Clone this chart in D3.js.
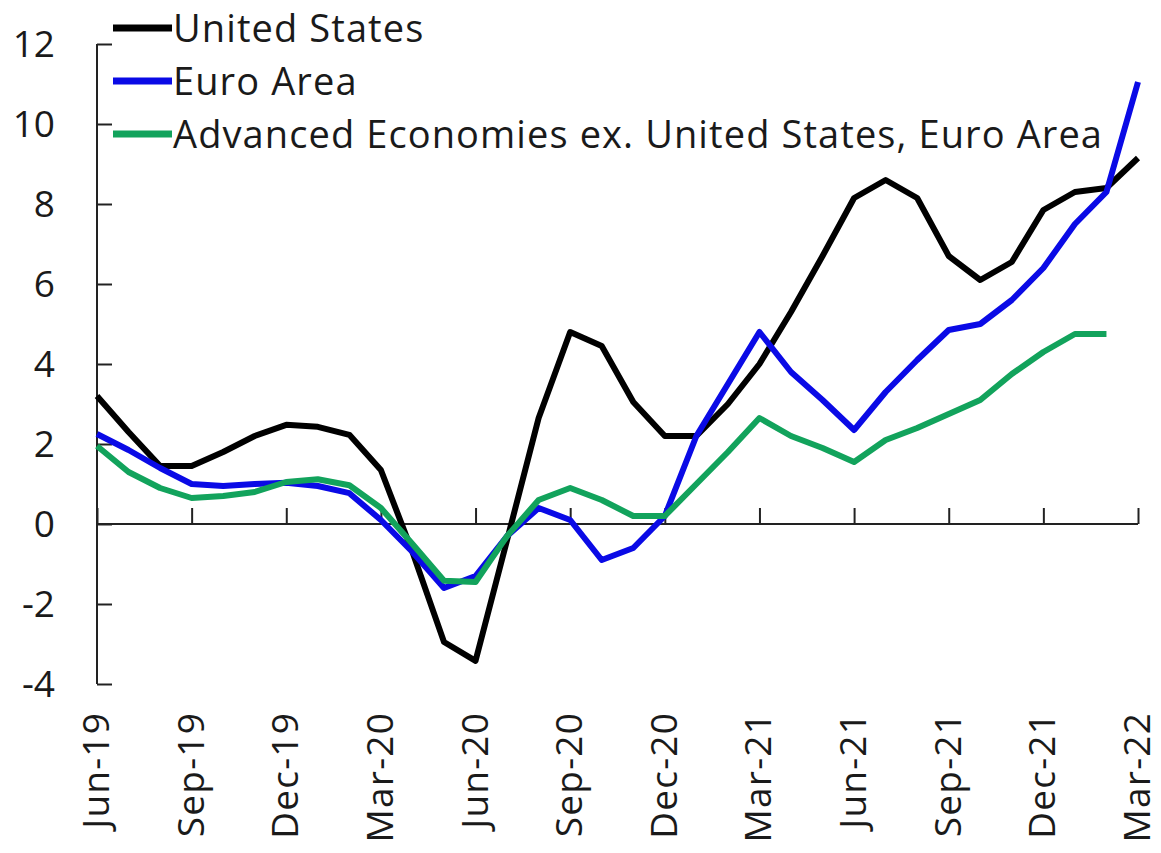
<!DOCTYPE html>
<html><head><meta charset="utf-8">
<script src="https://cdn.jsdelivr.net/npm/d3@7"></script>
<style>
html,body{margin:0;padding:0;background:#fff;}
text{font-family:"Open Sans",sans-serif;fill:#1a1a1a;}
</style></head>
<body>
<svg id="chart" width="1161" height="853"></svg>
<script>
const months = ["Jun-19","Jul-19","Aug-19","Sep-19","Oct-19","Nov-19","Dec-19","Jan-20","Feb-20","Mar-20","Apr-20","May-20","Jun-20","Jul-20","Aug-20","Sep-20","Oct-20","Nov-20","Dec-20","Jan-21","Feb-21","Mar-21","Apr-21","May-21","Jun-21","Jul-21","Aug-21","Sep-21","Oct-21","Nov-21","Dec-21","Jan-22","Feb-22","Mar-22"];
const tickLabels = ["Jun-19","Sep-19","Dec-19","Mar-20","Jun-20","Sep-20","Dec-20","Mar-21","Jun-21","Sep-21","Dec-21","Mar-22"];
const yTicks = [-4,-2,0,2,4,6,8,10,12];
const seriesNames = ["United States","Euro Area","Advanced Economies ex. United States, Euro Area"];
const usValues = [3.2,2.3,1.45,1.45,1.8,2.2,2.48,2.43,2.23,1.35,-0.7,-2.95,-3.42,-0.4,2.65,4.8,4.45,3.05,2.2,2.2,3.0,4.0,5.3,6.7,8.15,8.6,8.15,6.7,6.1,6.55,7.85,8.3,8.4,9.15];
const euroValues = [2.25,1.85,1.4,1.0,0.95,1.0,1.03,0.95,0.77,0.1,-0.7,-1.6,-1.3,-0.3,0.4,0.1,-0.9,-0.6,0.2,2.2,3.5,4.8,3.8,3.1,2.35,3.3,4.1,4.85,5.0,5.6,6.4,7.5,8.3,11.05];
const aeValues = [1.95,1.3,0.9,0.65,0.7,0.8,1.05,1.12,0.97,0.4,-0.5,-1.42,-1.45,-0.3,0.6,0.9,0.6,0.2,0.2,1.0,1.8,2.65,2.2,1.9,1.55,2.1,2.4,2.75,3.1,3.75,4.3,4.75,4.75,null];
const colors = ["#000000","#0a0ae6","#12a35c"];

const svg = d3.select("#chart");
const x = d3.scalePoint().domain(months).range([97,1138]);
const y = d3.scaleLinear().domain([-4,12]).range([684,44]);

// y axis
const yAxis = svg.append("g").attr("transform","translate(97,0)")
  .call(d3.axisRight(y).tickValues(yTicks).tickSize(15).tickFormat(""));
yAxis.select(".domain").attr("stroke","#222").attr("stroke-width",2).attr("d","M0,"+y(12)+"V"+y(-4));
yAxis.selectAll(".tick line").attr("stroke","#222").attr("stroke-width",2);
svg.append("g").selectAll("text").data(yTicks).join("text")
  .attr("x",55).attr("y",d=>y(d)).attr("dy","0.36em").attr("text-anchor","end")
  .style("font-size","37px").text(d=>d);

// x axis at zero
const xAxis = svg.append("g").attr("transform","translate(0,"+y(0)+")")
  .call(d3.axisTop(x).tickValues(tickLabels).tickSize(16).tickFormat(""));
xAxis.select(".domain").attr("stroke","#222").attr("stroke-width",2).attr("d","M97,0H1138");
xAxis.selectAll(".tick line").attr("stroke","#222").attr("stroke-width",2);
svg.append("g").selectAll("text").data(tickLabels).join("text")
  .attr("transform",d=>"translate("+(x(d)+12)+",712) rotate(-90)")
  .attr("text-anchor","end").style("font-size","37px").style("letter-spacing","1.2px").text(d=>d);

// lines
const line = d3.line().defined(d=>d[1]!==null).x(d=>x(d[0])).y(d=>y(d[1]));
[usValues,euroValues,aeValues].forEach((vals,i)=>{
  svg.append("path").datum(months.map((m,j)=>[m,vals[j]]))
    .attr("d",line).attr("fill","none").attr("stroke",colors[i])
    .attr("stroke-width",6).attr("stroke-linejoin","round");
});
// legend
const legY = [28,81,134];
seriesNames.forEach((n,i)=>{
  svg.append("line").attr("x1",113).attr("x2",172).attr("y1",legY[i]).attr("y2",legY[i])
    .attr("stroke",colors[i]).attr("stroke-width",7);
  svg.append("text").attr("x",173).attr("y",legY[i]).attr("dy","0.36em")
    .style("font-size","38px").style("letter-spacing","1.1px").text(n);
});
</script>
</body></html>
